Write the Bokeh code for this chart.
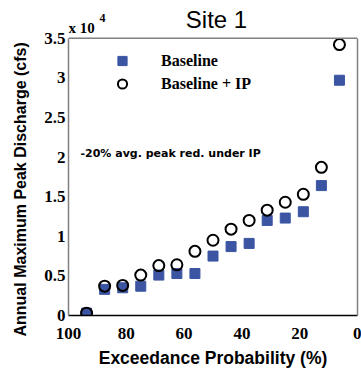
from bokeh.plotting import figure
from bokeh.models import (Range1d, FixedTicker, CustomJSTickFormatter, Label,
                          Legend, LegendItem, Title, Span, LinearAxis)
from bokeh.embed import file_html
from bokeh.resources import INLINE

# Exceedance probability of each annual peak (%), 15 years of record
exceedance_pct = [93.75, 87.5, 81.25, 75.0, 68.75, 62.5, 56.25, 50.0,
                  43.75, 37.5, 31.25, 25.0, 18.75, 12.5, 6.25]
# Annual maximum peak discharge, in units of 10^4 cfs
baseline = [0.03, 0.33, 0.35, 0.37, 0.51, 0.53, 0.53, 0.75,
            0.87, 0.91, 1.20, 1.23, 1.31, 1.64, 2.97]
baseline_ip = [0.03, 0.37, 0.38, 0.51, 0.63, 0.64, 0.81, 0.95,
               1.09, 1.20, 1.33, 1.43, 1.53, 1.87, 3.42]

x_ticks = [0, 20, 40, 60, 80, 100]
y_ticks = [0, 0.5, 1, 1.5, 2, 2.5, 3, 3.5]
Y_MAX = 3.5

SERIF = "Liberation Serif"
SANS = "Liberation Sans"
BOX = "#808080"

# The plotting frame runs up to the top of the canvas so the heading texts
# can sit inside it; the visible box stops at Y_MAX.
W, H = 361, 370
BOTTOM, LEFT = 53, 68
BOX_TOP = 38                       # pixels from the top of the canvas
frame_h = H - BOTTOM
y_end = Y_MAX * frame_h / (frame_h - BOX_TOP)

p = figure(width=W, height=H,
           x_range=Range1d(100, 0), y_range=Range1d(0, y_end),
           output_backend="svg", toolbar_location=None,
           min_border_left=LEFT, min_border_right=4,
           min_border_top=0, min_border_bottom=BOTTOM)

p.grid.visible = False
p.outline_line_color = None
p.background_fill_color = "white"
p.border_fill_color = "white"

for ax in (p.xaxis, p.yaxis):
    ax.major_tick_line_color = None
    ax.minor_tick_line_color = None
    ax.major_tick_out = 0
    ax.major_tick_in = 0
    ax.major_label_text_font = SERIF
    ax.major_label_text_font_style = "bold"
    ax.major_label_text_font_size = "17px"
    ax.major_label_text_color = "black"
    ax.axis_label_text_font = SANS
    ax.axis_label_text_font_style = "bold"
    ax.axis_label_text_color = "black"

p.xaxis.axis_label_text_font_size = "17.5px"
p.xaxis.ticker = FixedTicker(ticks=x_ticks)
p.yaxis.ticker = FixedTicker(ticks=y_ticks)
p.yaxis.formatter = CustomJSTickFormatter(code="return tick.toString();")
p.xaxis.formatter = CustomJSTickFormatter(code="return tick.toString();")
p.yaxis.bounds = (0, Y_MAX)
p.xaxis.axis_line_color = "black"
p.xaxis.axis_line_width = 1.5
p.yaxis.axis_line_color = BOX
p.yaxis.axis_line_width = 1.5
p.xaxis.major_label_standoff = 12
p.yaxis.major_label_standoff = 3
p.xaxis.axis_label = "Exceedance Probability (%)"
p.xaxis.axis_label_standoff = 6

# y axis title, starting a little below the bottom of the frame
p.add_layout(Title(text="Annual Maximum Peak Discharge (cfs)", align="left",
                   offset=-21, standoff=22, vertical_align="top",
                   text_font=SANS, text_font_style="bold",
                   text_font_size="16px", text_color="black"), "left")

# top and right edges of the box
p.add_layout(Span(location=Y_MAX, dimension="width",
                  line_color=BOX, line_width=1.5))
p.add_layout(LinearAxis(bounds=(0, Y_MAX), ticker=FixedTicker(ticks=[]),
                        axis_line_color=BOX, axis_line_width=1.5,
                        major_tick_line_color=None, minor_tick_line_color=None,
                        major_label_text_font_size="0px"), "right")

sq = p.scatter(exceedance_pct, baseline, marker="square", size=10,
               fill_color="#3B55A3", line_color="#3B55A3", line_width=1)
ci = p.scatter(exceedance_pct, baseline_ip, marker="circle", size=11,
               fill_alpha=0, line_color="black", line_width=2)

legend = Legend(items=[LegendItem(label="Baseline", renderers=[sq]),
                       LegendItem(label="Baseline + IP", renderers=[ci])],
                location=(41, 220), orientation="vertical",
                border_line_color=None, background_fill_alpha=0,
                padding=0, margin=0, spacing=0,
                glyph_width=26, glyph_height=23, label_height=20,
                label_standoff=26,
                label_text_font=SERIF, label_text_font_style="bold",
                label_text_font_size="16px", label_text_color="black")
p.add_layout(legend)

# heading, scale factor and note (frame-relative screen positions)
p.add_layout(Label(x=148, y=frame_h - 21, x_units="screen", y_units="screen",
                   text="Site 1", text_font=SANS, text_font_size="24px",
                   text_align="center", text_baseline="alphabetic",
                   text_color="black"))
p.add_layout(Label(x=0, y=frame_h - 29, x_units="screen", y_units="screen",
                   text="x 10", text_font=SERIF, text_font_style="bold",
                   text_font_size="15px", text_align="left",
                   text_baseline="alphabetic", text_color="black"))
p.add_layout(Label(x=31, y=frame_h - 19, x_units="screen", y_units="screen",
                   text="4", text_font=SERIF, text_font_style="bold",
                   text_font_size="12px", text_align="left",
                   text_baseline="alphabetic", text_color="black"))
p.add_layout(Label(x=12, y=162, x_units="screen", y_units="screen",
                   text="-20% avg. peak red. under IP", text_font="DejaVu Sans",
                   text_font_style="bold",
                   text_font_size="11px", text_baseline="middle",
                   text_align="left", text_color="black"))

open("out.html", "w").write(file_html(p, INLINE))
